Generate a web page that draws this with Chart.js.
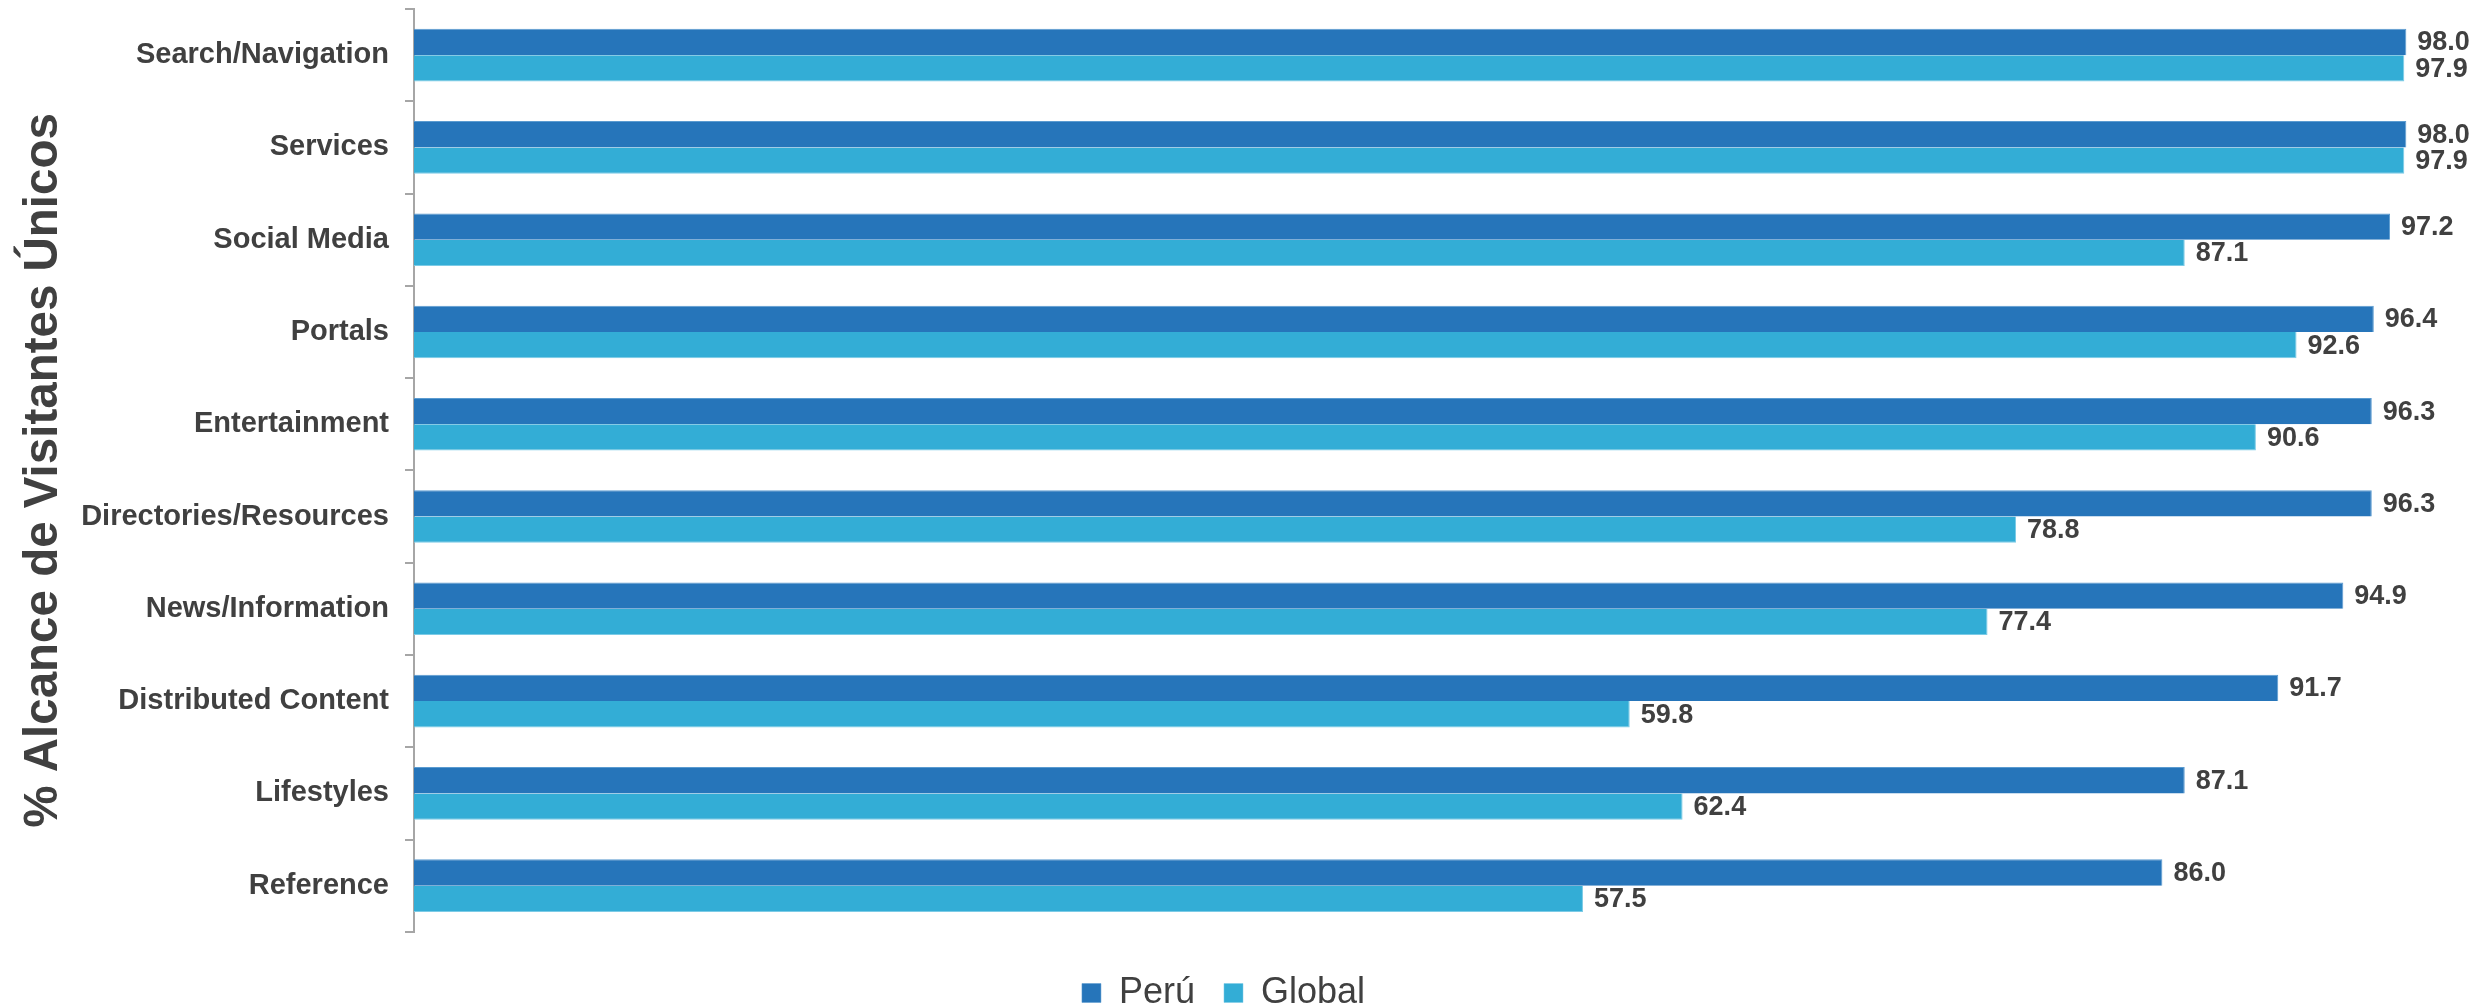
<!DOCTYPE html>
<html>
<head>
<meta charset="utf-8">
<script src="https://cdn.jsdelivr.net/npm/chart.js@4.4.1/dist/chart.umd.min.js"></script>
<style>
  html, body { margin: 0; padding: 0; background: #ffffff; }
  #wrap { width: 2487px; height: 1008px; }
</style>
</head>
<body>
<div id="wrap"><canvas id="chart" width="2487" height="1008"></canvas></div>
<script>
var theCategories = ["Search/Navigation", "Services", "Social Media", "Portals", "Entertainment",
	"Directories/Resources", "News/Information", "Distributed Content", "Lifestyles", "Reference"];
var thePeruValues = [98.0, 98.0, 97.2, 96.4, 96.3, 96.3, 94.9, 91.7, 87.1, 86.0];
var theGlobalValues = [97.9, 97.9, 87.1, 92.6, 90.6, 78.8, 77.4, 59.8, 62.4, 57.5];
var theSeriesNames = ["Perú", "Global"];
var theAxisTitle = "% Alcance de Visitantes Únicos";

var textColor = "#404040";
var fontName = "'Liberation Sans', Arial, sans-serif";

// draws the value at the end of every bar
var valueLabels = {
	id: "valueLabels",
	afterDatasetsDraw: function(chart) {
		var ctx = chart.ctx;
		ctx.save();
		ctx.font = "bold 27px " + fontName;
		ctx.fillStyle = textColor;
		ctx.textAlign = "left";
		ctx.textBaseline = "middle";
		chart.data.datasets.forEach(function(ds, i) {
			chart.getDatasetMeta(i).data.forEach(function(bar, j) {
				ctx.fillText(ds.data[j].toFixed(1), bar.x + 11, bar.y + 1);
			});
		});
		ctx.restore();
	}
};

new Chart(document.getElementById("chart"), {
	type: "bar",
	data: {
		labels: theCategories,
		datasets: [{
			label: theSeriesNames[0],
			data: thePeruValues,
			backgroundColor: "#2675BA",
			borderColor: "#5B9BD0",
			borderWidth: { top: 1, bottom: 0, left: 0, right: 1 }
		}, {
			label: theSeriesNames[1],
			data: theGlobalValues,
			backgroundColor: "#33ADD6",
			borderColor: "#7CCBE6",
			borderWidth: { top: 0, bottom: 1, left: 0, right: 1 }
		}]
	},
	options: {
		indexAxis: "y",
		responsive: false,
		animation: false,
		maintainAspectRatio: false,
		categoryPercentage: 0.57,
		barPercentage: 1.0,
		layout: { padding: { top: 9, right: 40, left: 0, bottom: -13 } },
		plugins: {
			tooltip: { enabled: false },
			legend: {
				position: "bottom",
				title: { display: true, text: "", font: { size: 1 }, padding: { top: 13, bottom: 0 } },
				labels: {
					boxWidth: 19,
					boxHeight: 19,
					padding: 29,
					color: textColor,
					font: { family: fontName, size: 36 }
				}
			}
		},
		scales: {
			x: {
				display: false,
				min: 0,
				max: 100
			},
			y: {
				afterFit: function(scale) {
					scale.width = 414;
					scale.paddingTop = 0;
					scale.paddingBottom = 0;
				},
				border: { display: true, color: "#A6A6A6", width: 2 },
				grid: {
					drawOnChartArea: false,
					drawTicks: true,
					tickLength: 9,
					color: "#A6A6A6",
					lineWidth: 2
				},
				ticks: {
					color: textColor,
					padding: 16,
					font: { family: fontName, size: 29, weight: "bold" }
				},
				title: {
					display: true,
					text: theAxisTitle,
					color: textColor,
					padding: { top: 15, bottom: 0 },
					font: { family: fontName, size: 47.5, weight: "bold" }
				}
			}
		}
	},
	plugins: [valueLabels]
});
</script>
</body>
</html>
